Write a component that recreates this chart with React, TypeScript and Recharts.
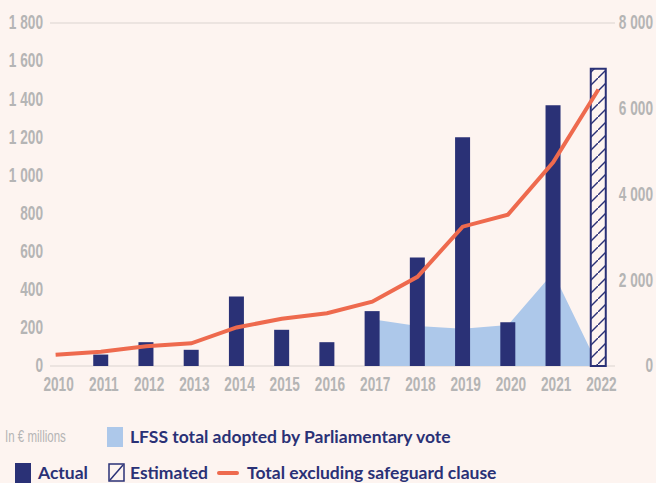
import { Area, Bar, CartesianGrid, ComposedChart, Line, XAxis, YAxis } from "recharts";

const years = ["2010", "2011", "2012", "2013", "2014", "2015", "2016", "2017", "2018", "2019", "2020", "2021", "2022"];
const actual = [null, 60, 125, 85, 365, 190, 125, 288, 570, 1200, 230, 1368, null];
const estimated = [null, null, null, null, null, null, null, null, null, null, null, null, 1560];
const lfss = [null, null, null, null, null, null, null, 245, 210, 195, 215, 490, 0];
const totalExclSafeguard = [260, 330, 460, 530, 900, 1100, 1230, 1500, 2080, 3250, 3530, 4750, 6450];
const leftTicks = [0, 200, 400, 600, 800, 1000, 1200, 1400, 1600, 1800];
const rightTicks = [0, 2000, 4000, 6000, 8000];

const data = years.map((year, i) => ({
    year,
    actual: actual[i],
    estimated: estimated[i],
    lfss: lfss[i],
    total: totalExclSafeguard[i],
}));

const NAVY = "#2a3176";
const BLUE = "#adc8ea";
const ORANGE = "#ee6a4e";
const GREY = "#b5b5b5";
const BG = "#fdf4f0";
const AXIS_FONT = "'Liberation Sans', Arial, sans-serif";
const LEGEND_FONT = "Lato, 'Open Sans', sans-serif";
const SQUEEZE = 0.7;

const fmt = (n: number) =>
    n >= 1000 ? `${Math.floor(n / 1000)} ${String(n % 1000).padStart(3, "0")}` : String(n);

// condensed look: squeeze the text horizontally around its anchor
const AxisText = ({ x, y, anchor, children }: any) => (
    <g transform={`translate(${x},${y}) scale(${SQUEEZE},1)`}>
        <text x={0} y={0} textAnchor={anchor} dominantBaseline="central" fill={GREY} fontSize={19.5} fontWeight={700} fontFamily={AXIS_FONT}>
            {children}
        </text>
    </g>
);

const LeftTick = ({ x, y, payload }: any) => (
    <AxisText x={x} y={y} anchor="end">{fmt(payload.value)}</AxisText>
);

const RightTick = ({ x, y, payload }: any) => (
    <AxisText x={x + 38} y={y} anchor="end">{fmt(payload.value)}</AxisText>
);

const YearTick = ({ x, y, payload }: any) => (
    <AxisText x={x + 3} y={y + 9} anchor="middle">{payload.value}</AxisText>
);

const HatchIcon = () => (
    <svg width={17} height={19}>
        <rect x={1} y={1} width={15} height={17} fill="none" stroke={NAVY} strokeWidth={1.5} />
        <line x1={2} y1={17} x2={15} y2={2} stroke={NAVY} strokeWidth={1.5} />
    </svg>
);

export default function App() {
    return (
        <div style={{ position: "absolute", left: 0, top: 0, width: 656, height: 483, background: BG }}>
            <ComposedChart
                width={656}
                height={400}
                data={data}
                margin={{ top: 23, right: 0, bottom: 0, left: 0 }}
            >
                <defs>
                    <pattern id="hatch" patternUnits="userSpaceOnUse" width={13} height={13}>
                        <rect width={13} height={13} fill={BG} />
                        <line x1={0} y1={13} x2={13} y2={0} stroke={NAVY} strokeWidth={1.4} />
                    </pattern>
                </defs>
                <CartesianGrid vertical={false} stroke="#e6dfdb" strokeWidth={1.5} />
                <XAxis
                    dataKey="year"
                    axisLine={false}
                    tickLine={false}
                    tickSize={0}
                    tickMargin={10}
                    padding={{ left: -17, right: -6 }}
                    interval={0}
                    tick={<YearTick />}
                    height={34}
                />
                <YAxis
                    yAxisId="left"
                    orientation="left"
                    width={50}
                    domain={[0, 1800]}
                    ticks={leftTicks}
                    axisLine={false}
                    tickLine={false}
                    tickSize={0}
                    tickMargin={7}
                    tick={<LeftTick />}
                />
                <YAxis
                    yAxisId="right"
                    orientation="right"
                    width={41}
                    domain={[0, 8000]}
                    ticks={rightTicks}
                    axisLine={false}
                    tickLine={false}
                    tickSize={0}
                    tickMargin={0}
                    tick={<RightTick />}
                />
                <Area
                    yAxisId="left"
                    type="linear"
                    dataKey="lfss"
                    fill={BLUE}
                    fillOpacity={1}
                    stroke="none"
                    isAnimationActive={false}
                />
                <Bar yAxisId="left" dataKey="actual" stackId="a" barSize={15} fill={NAVY} isAnimationActive={false} />
                <Bar
                    yAxisId="left"
                    dataKey="estimated"
                    stackId="a"
                    barSize={15}
                    fill="url(#hatch)"
                    stroke={NAVY}
                    strokeWidth={2}
                    isAnimationActive={false}
                />
                <Line
                    yAxisId="right"
                    type="linear"
                    dataKey="total"
                    stroke={ORANGE}
                    strokeWidth={4}
                    dot={false}
                    activeDot={false}
                    isAnimationActive={false}
                />
            </ComposedChart>

            <div
                style={{
                    position: "absolute",
                    left: 5,
                    top: 428,
                    fontFamily: AXIS_FONT,
                    fontSize: 16,
                    color: GREY,
                    whiteSpace: "nowrap",
                    transform: "scaleX(0.72)",
                    transformOrigin: "left center",
                }}
            >
                In € millions
            </div>
            <div
                style={{
                    position: "absolute",
                    left: 107,
                    top: 426,
                    display: "flex",
                    alignItems: "center",
                    gap: 7,
                    fontFamily: LEGEND_FONT,
                    fontWeight: 700,
                    fontSize: 17.5,
                    color: NAVY,
                    whiteSpace: "nowrap",
                }}
            >
                <span style={{ display: "inline-block", width: 16, height: 20, background: BLUE }} />
                <span>LFSS total adopted by Parliamentary vote</span>
            </div>
            <div
                style={{
                    position: "absolute",
                    left: 15,
                    top: 462,
                    display: "flex",
                    alignItems: "center",
                    fontFamily: LEGEND_FONT,
                    fontWeight: 700,
                    fontSize: 17.5,
                    color: NAVY,
                    whiteSpace: "nowrap",
                }}
            >
                <span style={{ display: "inline-block", width: 16, height: 20, background: NAVY, marginRight: 7 }} />
                <span style={{ marginRight: 20 }}>Actual</span>
                <span style={{ marginRight: 5, display: "flex" }}>
                    <HatchIcon />
                </span>
                <span style={{ marginRight: 9 }}>Estimated</span>
                <span style={{ display: "inline-block", width: 22, height: 4, borderRadius: 2, background: ORANGE, marginRight: 8 }} />
                <span>Total excluding safeguard clause</span>
            </div>
        </div>
    );
}
